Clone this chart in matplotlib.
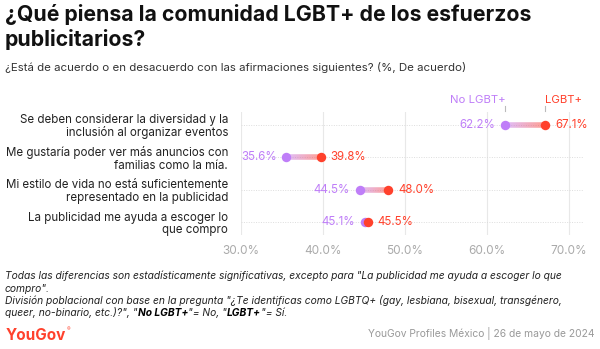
import numpy as np
import matplotlib
matplotlib.use("Agg")
import matplotlib.pyplot as plt
from matplotlib.collections import LineCollection
from matplotlib.colors import to_rgba

plt.rcParams['font.family'] = ['Inter', 'DejaVu Sans']

categories = [
    "Se deben considerar la diversidad y la\ninclusión al organizar eventos",
    "Me gustaría poder ver más anuncios con\nfamilias como la mía.",
    "Mi estilo de vida no está suficientemente\nrepresentado en la publicidad",
    "La publicidad me ayuda a escoger lo\nque compro",
]
no_lgbt = [62.2, 35.6, 44.5, 45.1]
lgbt = [67.1, 39.8, 48.0, 45.5]
series_names = ["No LGBT+", "LGBT+"]
xticks = [30, 40, 50, 60, 70]

PURPLE = "#bf7ef8"
RED = "#ff412c"
W, H = 600, 349

fig = plt.figure(figsize=(6, 3.49), dpi=100)
fig.canvas.draw()
renderer = fig.canvas.get_renderer()


def fy(px):
    return 1 - px / H


def fx(px):
    return px / W


def fit(t, target_px):
    w = t.get_window_extent(renderer=renderer).width
    t.set_fontsize(t.get_fontsize() * target_px / w)
    return t


# Title & subtitle
t1 = fig.text(fx(5), fy(21), "¿Qué piensa la comunidad LGBT+ de los esfuerzos",
              fontsize=15, fontweight='bold', color='#111111', va='baseline')
fit(t1, 525)
fig.text(fx(5), fy(45.5), "publicitarios?",
         fontsize=t1.get_fontsize(), fontweight='bold', color='#111111', va='baseline')
st = fig.text(fx(5), fy(71), "¿Está de acuerdo o en desacuerdo con las afirmaciones siguientes? (%, De acuerdo)",
              fontsize=8.2, color='#333333', va='baseline')
fit(st, 462)

ax = fig.add_axes([fx(240.5), fy(235), fx(583 - 240.5), (235 - 112) / H])
ax.set_xlim(30, 71.7)
ax.set_ylim(3.4, -0.4)
ys = np.arange(len(categories))

for x in xticks:
    ax.axvline(x, color='#e8e8e8', lw=0.8, zorder=0)
for y in ys:
    ax.axhline(y, color='#dddddd', lw=0.7, ls=(0, (1, 1.5)), zorder=0)

pr = np.array(to_rgba(PURPLE))
rr = np.array(to_rgba(RED))
for y, a, b in zip(ys, no_lgbt, lgbt):
    n = 40
    xs = np.linspace(a, b, n + 1)
    segs = [[(xs[i], y), (xs[i + 1], y)] for i in range(n)]
    cols = []
    for i in range(n):
        t = i / (n - 1)
        c = pr * (1 - t) + rr * t
        c[3] = 0.5
        cols.append(c)
    ax.add_collection(LineCollection(segs, colors=cols, linewidths=4, capstyle='butt', zorder=2))

ax.plot(no_lgbt, ys, 'o', color=PURPLE, ms=6.8, mec='none', zorder=3)
ax.plot(lgbt, ys, 'o', color=RED, ms=6.8, mec='none', zorder=4)

for y, a, b in zip(ys, no_lgbt, lgbt):
    lo, hi = min(a, b), max(a, b)
    ax.annotate(f"{a:.1f}%", (lo, y), xytext=(-7, 0), textcoords='offset points',
                ha='right', va='center', fontsize=8.3, color=PURPLE)
    ax.annotate(f"{b:.1f}%", (hi, y), xytext=(7, 0), textcoords='offset points',
                ha='left', va='center', fontsize=8.3, color=RED)

# legend labels above first row
for val, name, col, ha in [(no_lgbt[0], series_names[0], PURPLE, 'right'),
                           (lgbt[0], series_names[1], RED, 'left')]:
    ax.annotate(name, (val, -0.4), xytext=(0.5 if ha == 'right' else 0, 8.8), textcoords='offset points',
                ha=ha, va='center', fontsize=8.2, color=col, annotation_clip=False)
    ax.plot([val, val], [-0.44, -0.6], color='#bbbbbb', lw=0.8, clip_on=False)

ax.set_yticks(ys)
ax.set_yticklabels(categories, fontsize=8.3, color='#222222', ha='right', linespacing=1.05)
ax.tick_params(axis='y', length=0, pad=9)
ax.set_xticks(xticks)
ax.set_xticklabels([f"{x:.1f}%" for x in xticks], fontsize=8.5, color='#aaaaaa')
ax.tick_params(axis='x', length=0, pad=7)
for s in ax.spines.values():
    s.set_visible(False)
ax.patch.set_alpha(0)

# Footnote
foot_col = '#222222'
f3 = fig.text(fx(5), fy(304), 'División poblacional con base en la pregunta "¿Te identificas como LGBTQ+ (gay, lesbiana, bisexual, transgénero,',
              fontsize=7, style='italic', color=foot_col, va='baseline')
fit(f3, 560)
fs = f3.get_fontsize()
fig.text(fx(5), fy(279), 'Todas las diferencias son estadísticamente significativas, excepto para "La publicidad me ayuda a escoger lo que',
         fontsize=fs, style='italic', color=foot_col, va='baseline')
fig.text(fx(5), fy(291.5), 'compro".', fontsize=fs, style='italic', color=foot_col, va='baseline')

parts = [('queer, no-binario, etc.)?", "', 'normal'), ('No LGBT+', 'bold'), ('"= No, "', 'normal'),
         ('LGBT+', 'bold'), ('"= Sí.', 'normal')]
xpos = fx(5)
for txt, wt in parts:
    t = fig.text(xpos, fy(316.5), txt, fontsize=fs, style='italic', fontweight=wt,
                 color=('#000000' if wt == 'bold' else foot_col), va='baseline')
    bb = t.get_window_extent(renderer=renderer)
    xpos += bb.width / W

yg = fig.text(fx(6), fy(340.5), "YouGov", fontsize=12, fontweight='bold', color='#ff412c', va='baseline')
fit(yg, 60)
fig.text(fx(67), fy(331), "®", fontsize=4, color='#ff412c', va='baseline')
src = fig.text(fx(595), fy(337), "YouGov Profiles México | 26 de mayo de 2024", fontsize=8,
               color='#999999', va='baseline', ha='right')
fit(src, 228)

fig.savefig("out.png", dpi=100)
